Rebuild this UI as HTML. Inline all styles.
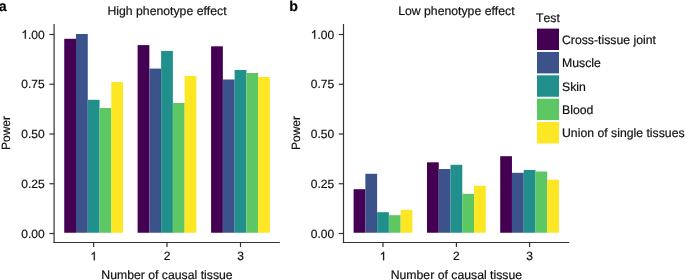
<!DOCTYPE html><html><head><meta charset="utf-8"><style>html,body{margin:0;padding:0;background:#fff;overflow:hidden;}svg{display:block;will-change:transform;}text{font-family:"Liberation Sans",sans-serif;stroke:#111;stroke-width:0.2px;text-rendering:geometricPrecision;font-kerning:none;}</style></head><body>
<svg width="685" height="280" viewBox="0 0 685 280">
<rect x="64.25" y="38.80" width="11.76" height="193.95" fill="#440154"/>
<rect x="76.01" y="34.00" width="11.76" height="198.75" fill="#3B528B"/>
<rect x="87.77" y="99.80" width="11.76" height="132.95" fill="#21908C"/>
<rect x="99.53" y="108.00" width="11.76" height="124.75" fill="#5DC863"/>
<rect x="111.29" y="82.00" width="11.76" height="150.75" fill="#FDE725"/>
<rect x="137.60" y="45.10" width="11.76" height="187.65" fill="#440154"/>
<rect x="149.36" y="68.60" width="11.76" height="164.15" fill="#3B528B"/>
<rect x="161.12" y="50.90" width="11.76" height="181.85" fill="#21908C"/>
<rect x="172.88" y="103.00" width="11.76" height="129.75" fill="#5DC863"/>
<rect x="184.64" y="76.00" width="11.76" height="156.75" fill="#FDE725"/>
<rect x="211.10" y="46.30" width="11.76" height="186.45" fill="#440154"/>
<rect x="222.86" y="79.50" width="11.76" height="153.25" fill="#3B528B"/>
<rect x="234.62" y="70.00" width="11.76" height="162.75" fill="#21908C"/>
<rect x="246.38" y="73.00" width="11.76" height="159.75" fill="#5DC863"/>
<rect x="258.14" y="77.00" width="11.76" height="155.75" fill="#FDE725"/>
<line x1="54.10" y1="24" x2="54.10" y2="243.10" stroke="#333" stroke-width="1.2"/>
<line x1="53.50" y1="242.5" x2="279.80" y2="242.5" stroke="#333" stroke-width="1.2"/>
<line x1="49.40" y1="233.50" x2="54.10" y2="233.50" stroke="#333" stroke-width="1.2"/>
<text x="44.70" y="237.70" font-size="12" text-anchor="end" fill="#111">0.00</text>
<line x1="49.40" y1="183.75" x2="54.10" y2="183.75" stroke="#333" stroke-width="1.2"/>
<text x="44.70" y="187.95" font-size="12" text-anchor="end" fill="#111">0.25</text>
<line x1="49.40" y1="134.00" x2="54.10" y2="134.00" stroke="#333" stroke-width="1.2"/>
<text x="44.70" y="138.20" font-size="12" text-anchor="end" fill="#111">0.50</text>
<line x1="49.40" y1="84.25" x2="54.10" y2="84.25" stroke="#333" stroke-width="1.2"/>
<text x="44.70" y="88.45" font-size="12" text-anchor="end" fill="#111">0.75</text>
<line x1="49.40" y1="34.50" x2="54.10" y2="34.50" stroke="#333" stroke-width="1.2"/>
<path transform="translate(21.35,38.70) scale(0.005859,-0.005859)" d="M763 0H583V1147Q518 1085 412 1023Q306 961 222 930V1104Q373 1175 486 1276Q599 1377 646 1472H763Z" fill="#111" stroke="#111" stroke-width="34.1"/>
<text x="44.70" y="38.70" font-size="12" text-anchor="end" fill="#111">.00</text>
<line x1="93.65" y1="242.5" x2="93.65" y2="247.1" stroke="#333" stroke-width="1.2"/>
<path transform="translate(90.31,260.30) scale(0.005859,-0.005859)" d="M763 0H583V1147Q518 1085 412 1023Q306 961 222 930V1104Q373 1175 486 1276Q599 1377 646 1472H763Z" fill="#111" stroke="#111" stroke-width="34.1"/>
<line x1="167.00" y1="242.5" x2="167.00" y2="247.1" stroke="#333" stroke-width="1.2"/>
<text x="167.00" y="260.3" font-size="12" text-anchor="middle" fill="#111">2</text>
<line x1="240.50" y1="242.5" x2="240.50" y2="247.1" stroke="#333" stroke-width="1.2"/>
<text x="240.50" y="260.3" font-size="12" text-anchor="middle" fill="#111">3</text>
<text x="167.00" y="279.2" font-size="12.25" text-anchor="middle" fill="#111">Number of causal tissue</text>
<text x="167.00" y="15.4" font-size="12.25" text-anchor="middle" fill="#111">High phenotype effect</text>
<text transform="translate(9.6,133) rotate(-90)" font-size="12" text-anchor="middle" fill="#111">Power</text>
<text x="-1.2" y="10.8" font-size="14.2" font-weight="bold" fill="#000">a</text>
<rect x="353.60" y="189.20" width="11.76" height="43.55" fill="#440154"/>
<rect x="365.36" y="173.80" width="11.76" height="58.95" fill="#3B528B"/>
<rect x="377.12" y="212.20" width="11.76" height="20.55" fill="#21908C"/>
<rect x="388.88" y="215.20" width="11.76" height="17.55" fill="#5DC863"/>
<rect x="400.64" y="209.80" width="11.76" height="22.95" fill="#FDE725"/>
<rect x="427.00" y="162.30" width="11.76" height="70.45" fill="#440154"/>
<rect x="438.76" y="169.00" width="11.76" height="63.75" fill="#3B528B"/>
<rect x="450.52" y="164.80" width="11.76" height="67.95" fill="#21908C"/>
<rect x="462.28" y="193.80" width="11.76" height="38.95" fill="#5DC863"/>
<rect x="474.04" y="185.80" width="11.76" height="46.95" fill="#FDE725"/>
<rect x="500.20" y="156.20" width="11.76" height="76.55" fill="#440154"/>
<rect x="511.96" y="172.80" width="11.76" height="59.95" fill="#3B528B"/>
<rect x="523.72" y="170.00" width="11.76" height="62.75" fill="#21908C"/>
<rect x="535.48" y="171.50" width="11.76" height="61.25" fill="#5DC863"/>
<rect x="547.24" y="179.70" width="11.76" height="53.05" fill="#FDE725"/>
<line x1="343.50" y1="24" x2="343.50" y2="243.10" stroke="#333" stroke-width="1.2"/>
<line x1="342.90" y1="242.5" x2="569.20" y2="242.5" stroke="#333" stroke-width="1.2"/>
<line x1="338.80" y1="233.50" x2="343.50" y2="233.50" stroke="#333" stroke-width="1.2"/>
<text x="334.10" y="237.70" font-size="12" text-anchor="end" fill="#111">0.00</text>
<line x1="338.80" y1="183.75" x2="343.50" y2="183.75" stroke="#333" stroke-width="1.2"/>
<text x="334.10" y="187.95" font-size="12" text-anchor="end" fill="#111">0.25</text>
<line x1="338.80" y1="134.00" x2="343.50" y2="134.00" stroke="#333" stroke-width="1.2"/>
<text x="334.10" y="138.20" font-size="12" text-anchor="end" fill="#111">0.50</text>
<line x1="338.80" y1="84.25" x2="343.50" y2="84.25" stroke="#333" stroke-width="1.2"/>
<text x="334.10" y="88.45" font-size="12" text-anchor="end" fill="#111">0.75</text>
<line x1="338.80" y1="34.50" x2="343.50" y2="34.50" stroke="#333" stroke-width="1.2"/>
<path transform="translate(310.75,38.70) scale(0.005859,-0.005859)" d="M763 0H583V1147Q518 1085 412 1023Q306 961 222 930V1104Q373 1175 486 1276Q599 1377 646 1472H763Z" fill="#111" stroke="#111" stroke-width="34.1"/>
<text x="334.10" y="38.70" font-size="12" text-anchor="end" fill="#111">.00</text>
<line x1="383.00" y1="242.5" x2="383.00" y2="247.1" stroke="#333" stroke-width="1.2"/>
<path transform="translate(379.66,260.30) scale(0.005859,-0.005859)" d="M763 0H583V1147Q518 1085 412 1023Q306 961 222 930V1104Q373 1175 486 1276Q599 1377 646 1472H763Z" fill="#111" stroke="#111" stroke-width="34.1"/>
<line x1="456.40" y1="242.5" x2="456.40" y2="247.1" stroke="#333" stroke-width="1.2"/>
<text x="456.40" y="260.3" font-size="12" text-anchor="middle" fill="#111">2</text>
<line x1="529.60" y1="242.5" x2="529.60" y2="247.1" stroke="#333" stroke-width="1.2"/>
<text x="529.60" y="260.3" font-size="12" text-anchor="middle" fill="#111">3</text>
<text x="456.40" y="279.2" font-size="12.25" text-anchor="middle" fill="#111">Number of causal tissue</text>
<text x="456.40" y="15.4" font-size="12.25" text-anchor="middle" fill="#111">Low phenotype effect</text>
<text transform="translate(299.6,133) rotate(-90)" font-size="12" text-anchor="middle" fill="#111">Power</text>
<text x="289.25" y="10.8" font-size="14.2" font-weight="bold" fill="#000">b</text>
<text x="536" y="21.8" font-size="12.25" fill="#111">Test</text>
<rect x="537" y="28.60" width="22" height="21.45" fill="#440154"/>
<text x="562" y="43.80" font-size="12.25" fill="#111">Cross-tissue joint</text>
<rect x="537" y="51.95" width="22" height="21.45" fill="#3B528B"/>
<text x="562" y="67.15" font-size="12.25" fill="#111">Muscle</text>
<rect x="537" y="75.30" width="22" height="21.45" fill="#21908C"/>
<text x="562" y="90.50" font-size="12.25" fill="#111">Skin</text>
<rect x="537" y="98.65" width="22" height="21.45" fill="#5DC863"/>
<text x="562" y="113.85" font-size="12.25" fill="#111">Blood</text>
<rect x="537" y="122.00" width="22" height="21.45" fill="#FDE725"/>
<text x="562" y="137.20" font-size="12.25" fill="#111">Union of single tissues</text>
</svg></body></html>
